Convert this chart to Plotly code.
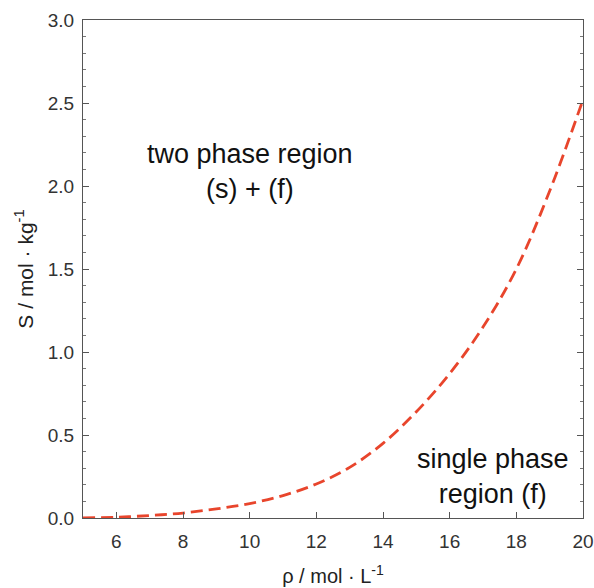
import plotly.graph_objects as go

rho = [5, 6, 7, 8, 9, 10, 11, 12, 13, 14, 15, 16, 17, 18, 19, 20]
S = [0.0, 0.005, 0.015, 0.03, 0.055, 0.087, 0.135, 0.205, 0.305, 0.45, 0.64, 0.87, 1.15, 1.50, 1.97, 2.52]

x_ticks = [6, 8, 10, 12, 14, 16, 18, 20]
y_ticks = [0.0, 0.5, 1.0, 1.5, 2.0, 2.5, 3.0]

font_family = "Liberation Sans, Arial, sans-serif"

fig = go.Figure()
fig.add_trace(go.Scatter(
    x=rho, y=S, mode="lines",
    line=dict(color="#e8452c", width=2.8, dash="12px,6px", shape="spline"),
    showlegend=False, hoverinfo="skip",
))

fig.add_annotation(x=10.0, y=2.09, xref="x", yref="y",
                   text="two phase region<br>(s) + (f)", showarrow=False,
                   font=dict(family=font_family, size=27, color="#111"), align="center")
fig.add_annotation(x=17.3, y=0.25, xref="x", yref="y",
                   text="single phase<br>region (f)", showarrow=False,
                   font=dict(family=font_family, size=27, color="#111"), align="center",
                   xanchor="center")

axis_common = dict(
    showline=True, linecolor="#555", linewidth=1,
    ticks="inside", tickcolor="#555", ticklen=6, tickwidth=1,
    showgrid=False, zeroline=False, automargin=False,
    tickfont=dict(family=font_family, size=19, color="#333"),
)

fig.update_xaxes(
    range=[5, 20], tickvals=x_ticks, ticktext=[str(v) for v in x_ticks],
    mirror=True, ticklabelstandoff=6, ticklabeloverflow="allow",
    title=dict(text="ρ / mol · L<sup>-1</sup>", font=dict(family=font_family, size=20, color="#222"), standoff=18),
    **axis_common,
)
fig.update_yaxes(
    range=[0, 3], tickvals=y_ticks, ticktext=[f"{v:.1f}" for v in y_ticks],
    mirror="ticks", ticklabelstandoff=4,
    minor=dict(ticks="inside", dtick=0.1, ticklen=3, tickcolor="#777", showgrid=False),
    title=dict(text="S / mol · kg<sup>-1</sup>", font=dict(family=font_family, size=21, color="#222"), standoff=8),
    **axis_common,
)

fig.update_layout(
    width=594, height=588,
    margin=dict(l=83, r=11, t=20, b=70),
    paper_bgcolor="white", plot_bgcolor="white",
)

fig.write_html("out.html")
